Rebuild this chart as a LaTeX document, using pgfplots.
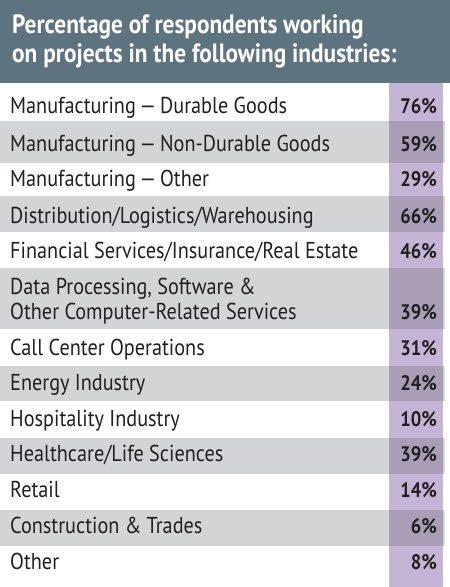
\documentclass[border=0pt]{standalone}
\usepackage{pgfplots}
\pgfplotsset{compat=1.18}
\usepackage{pgfplotstable}
\usepackage{fontspec}
\setmainfont[FakeStretch=0.88]{PT Sans}
\definecolor{hdr}{HTML}{5D7480}
\definecolor{stripe}{HTML}{D3D4D6}
\definecolor{purp}{HTML}{C4B5D7}
\definecolor{purpd}{HTML}{A99EB5}
\definecolor{txt}{HTML}{231F20}

% label rows: x = left edge, y = baseline (pixels from top)
\pgfplotstableread[col sep=semicolon]{
x;y;label
10;113;Manufacturing\,---\,Durable Goods
10;151;Manufacturing\,---\,Non-Durable Goods
10;186;Manufacturing\,---\,Other
10;223;Distribution/Logistics/Warehousing
10;258;Financial Services/Insurance/Real Estate
10;294;Data Processing, Software \&
10;319;Other Computer-Related Services
10;355;Call Center Operations
10;390;Energy Industry
10;426;Hospitality Industry
10;461;Healthcare/Life Sciences
10;497;Retail
10;533;Construction \& Trades
10;569;Other
}\labelrows

% values (percent)
\pgfplotstableread[col sep=semicolon]{
x;y;value
437;113;76
437;151;59
437;186;29
437;223;66
437;258;46
437;319;39
437;355;31
437;390;24
437;426;10
437;461;39
437;497;14
437;533;6
437;569;8
}\valuerows

\begin{document}
\begin{tikzpicture}
\begin{axis}[
  width=450pt, height=587pt, scale only axis,
  xmin=0, xmax=450, ymin=0, ymax=587, y dir=reverse,
  axis lines=none, clip=false,
]
% header
\fill[hdr] (axis cs:0,0) rectangle (axis cs:450,83);
% striped rows
\fill[stripe] (axis cs:0,121) rectangle (axis cs:445,163);
\fill[stripe] (axis cs:0,196) rectangle (axis cs:445,232);
\fill[stripe] (axis cs:0,268) rectangle (axis cs:445,329);
\fill[stripe] (axis cs:0,366) rectangle (axis cs:445,401);
\fill[stripe] (axis cs:0,438) rectangle (axis cs:445,474);
\fill[stripe] (axis cs:0,510) rectangle (axis cs:445,546);
% purple column
\fill[purp] (axis cs:389,83) rectangle (axis cs:443,587);
\fill[purpd] (axis cs:389,121) rectangle (axis cs:443,163);
\fill[purpd] (axis cs:389,196) rectangle (axis cs:443,232);
\fill[purpd] (axis cs:389,268) rectangle (axis cs:443,329);
\fill[purpd] (axis cs:389,366) rectangle (axis cs:443,401);
\fill[purpd] (axis cs:389,438) rectangle (axis cs:443,474);
\fill[purpd] (axis cs:389,510) rectangle (axis cs:443,546);
\node[anchor=base west, inner sep=0pt, text=white,
      font=\fontsize{26.5}{29}\selectfont\bfseries]
  at (axis cs:12,33) {Percentage of respondents working};
\node[anchor=base west, inner sep=0pt, text=white,
      font=\fontsize{26.5}{29}\selectfont\bfseries]
  at (axis cs:12,62) {on projects in the following industries:};

\addplot[draw=none, mark=none, point meta=explicit symbolic,
  nodes near coords={\pgfplotspointmeta},
  every node near coord/.append style={anchor=base west, inner sep=0pt,
     text=txt, font=\fontsize{23}{27}\selectfont}]
  table[x=x, y=y, meta=label] {\labelrows};

\addplot[draw=none, mark=none, point meta=explicit symbolic,
  nodes near coords={\pgfplotspointmeta\%},
  every node near coord/.append style={anchor=base east, inner sep=0pt,
     text=txt, font=\fontsize{21}{25}\selectfont\bfseries}]
  table[x=x, y=y, meta=value] {\valuerows};
\end{axis}
\end{tikzpicture}
\end{document}
